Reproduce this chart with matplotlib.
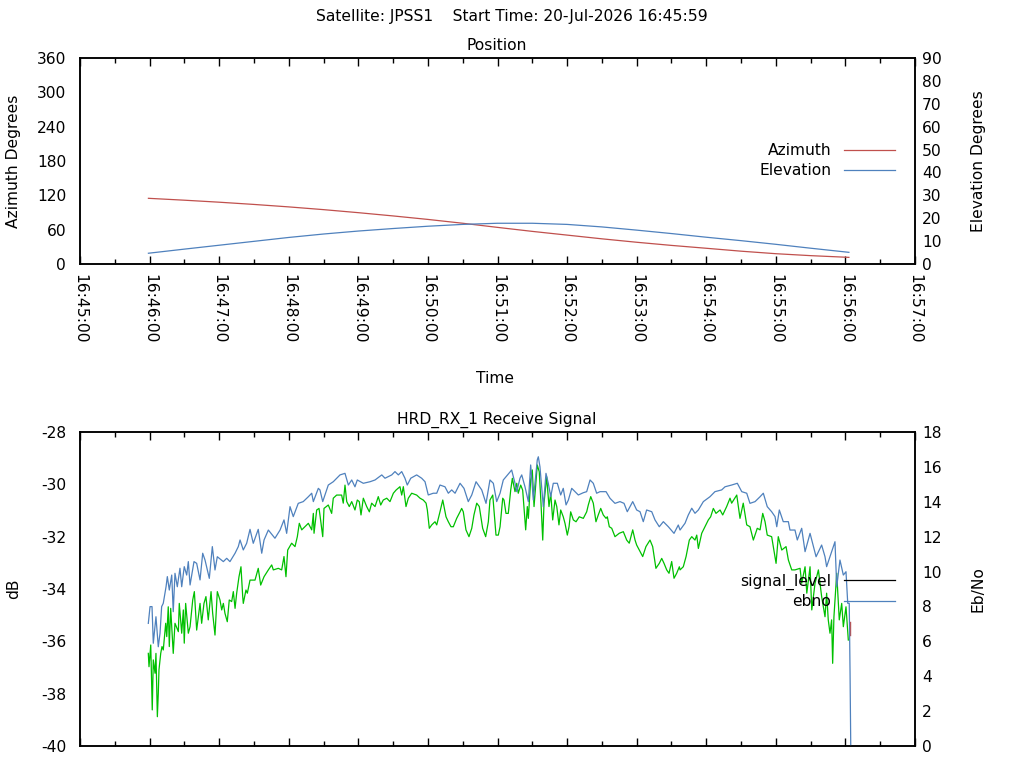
import matplotlib
matplotlib.use("Agg")
import matplotlib.pyplot as plt
from matplotlib.ticker import MultipleLocator, FuncFormatter
from matplotlib.lines import Line2D

# ---------------- data ----------------
# time in seconds since 16:45:00
pos_t = [59, 90, 120, 150, 180, 210, 240, 270, 300, 330, 360, 390, 420, 450, 480,
         510, 540, 570, 600, 630, 663]
azimuth = [114.8, 111.5, 108.0, 104.1, 99.8, 95.0, 89.7, 84.0, 77.9, 71.2, 64.0, 57.0,
           50.5, 44.0, 38.0, 32.5, 27.5, 22.4, 18.0, 14.6, 11.6]
elevation = [4.7, 6.5, 8.2, 9.9, 11.6, 13.1, 14.4, 15.5, 16.5, 17.3, 17.8, 17.8, 17.3,
             16.2, 14.8, 13.3, 11.7, 10.2, 8.6, 6.9, 5.1]

ebno_t = [58.9, 60.4, 62.1, 63.2, 65.5, 67.5, 69.0, 70.4, 71.8, 74.2, 75.3, 77.0, 79.1, 80.4,
          81.9, 83.9, 86.2, 87.7, 89.9, 92.0, 93.4, 94.9, 98.3, 100.6, 103.5, 105.8, 107.8,
          111.5, 114.1, 116.4, 118.4, 123.6, 126.5, 129.3, 133.7, 136.5, 138.0, 140.8, 143.7,
          146.6, 149.4, 153.7, 156.7, 158.7, 162.4, 168.1, 172.5, 175.9, 178.2, 181.1, 183.9,
          188.2, 192.5, 196.9, 199.8, 201.2, 205.5,
          206.9, 209.3, 214.1, 218.4, 224.2, 228.5, 231.4, 234.3, 237.1, 239.1, 244.3, 250.1,
          254.4, 260.2, 263.0, 268.8, 271.6, 274.5, 277.4, 280.2, 282.2, 285.2, 290.3, 294.6,
          297.5, 300.3, 304.6, 307.6, 310.4, 314.7, 317.6, 320.5, 323.4, 327.7, 331.1, 334.8,
          337.8, 341.5, 346.4, 350.1, 353.5, 356.4, 359.3, 362.2,
          365.0, 372.2, 375.1, 376.6, 379.4, 380.9, 383.7, 386.6, 388.6, 390.9, 394.3, 395.2,
          396.6, 399.5, 401.8, 403.8, 405.9, 408.1, 411.6, 414.5, 416.7, 419.1, 421.1, 424.0,
          426.8, 429.7, 434.0, 436.9, 439.8, 442.6, 445.5, 448.4, 453.6, 457.0, 461.3, 465.6,
          469.1, 471.9, 476.6, 480.0, 482.9, 485.7, 488.6, 493.0, 495.8, 499.5, 503.0, 507.3,
          512.2, 515.9,
          517.4, 521.7, 524.5, 527.5, 530.3, 533.2, 537.5, 543.2, 547.5, 553.3, 556.2, 561.9,
          566.8, 570.6, 574.9, 577.7, 582.1, 586.4, 589.2, 592.6, 596.4, 599.3, 600.8, 603.0,
          606.4, 610.8, 612.2, 616.5, 618.5, 622.3, 625.2, 629.5, 634.7, 639.5, 642.4, 643.8,
          651.0, 652.5, 655.3, 658.2, 660.5, 662.0, 663.3, 664.0, 664.6]
ebno = [7.03, 7.99, 7.99, 5.89, 7.41, 5.69, 6.46, 7.99, 8.18, 9.13, 9.71, 8.94, 9.80, 7.70,
        9.90, 9.13, 10.19, 9.13, 10.28, 9.80, 10.57, 9.23, 10.57, 10.47, 9.52, 11.05, 10.66,
        9.61, 11.43, 10.09, 10.85, 10.57, 10.76, 10.57, 11.05, 11.43, 11.81, 11.24, 11.62,
        12.42, 11.62, 12.42, 11.05, 11.81, 12.38, 11.91, 12.38, 12.96, 12.19, 13.72, 13.15,
        13.91, 14.01, 14.29, 14.49, 14.01, 14.77,
        14.68, 14.01, 14.96, 15.15, 15.54, 15.63, 14.96, 15.25, 14.86, 15.25, 15.06, 15.15,
        15.25, 15.54, 15.35, 15.54, 15.73, 15.54, 15.73, 15.35, 14.96, 15.35, 15.54, 15.35,
        15.15, 14.39, 14.49, 14.49, 14.96, 14.86, 14.49, 14.68, 14.49, 15.06, 14.77, 14.01,
        14.39, 15.15, 14.68, 13.91, 15.25, 15.06, 14.01, 14.49,
        15.25, 15.82, 15.06, 14.58, 15.35, 15.54, 14.86, 14.01, 16.11, 14.10, 16.40, 16.58,
        16.01, 13.72, 15.63, 15.06, 14.29, 15.06, 15.06, 14.39, 14.77, 13.82, 14.10, 14.77,
        14.58, 14.39, 14.52, 14.58, 15.25, 15.06, 14.49, 14.58, 14.58, 14.20, 13.91, 14.01,
        13.91, 13.43, 14.01, 13.53, 13.43, 12.86, 13.53, 13.43, 12.96, 12.57, 12.86, 12.57,
        12.19, 12.67,
        12.38, 12.77, 13.24, 13.63, 13.34, 13.53, 14.01, 14.29, 14.58, 14.68, 14.86, 14.96,
        15.06, 14.58, 14.49, 13.91, 14.01, 14.29, 14.49, 13.72, 13.43, 13.15, 12.57, 13.53,
        12.86, 12.86, 12.38, 12.38, 11.81, 12.48, 11.14, 12.19, 10.85, 11.52, 10.85, 10.28,
        11.71, 9.13, 10.66, 9.80, 9.99, 8.18, 8.18, 4.17, 0.0]

signal_t = [58.9, 59.5, 61.0, 62.3, 63.2, 64.7, 65.5, 66.7, 67.5, 68.1, 69.6, 70.7, 71.8, 73.9,
            74.8, 76.1, 77.0, 78.2, 80.4, 81.9, 84.8, 85.6, 87.7, 89.1, 89.9, 91.1, 93.4, 94.9,
            97.2, 98.6, 100.6, 103.5, 104.9, 106.9, 108.6, 110.6, 113.0, 114.4, 116.4, 118.4,
            120.7, 122.2, 123.6, 125.0, 127.0, 128.7, 130.8, 132.2, 133.7, 135.1, 137.1, 138.8,
            140.3, 140.8, 143.1, 144.3, 146.6, 150.9, 153.7, 155.8, 158.7, 162.4, 165.3, 166.7,
            171.0, 173.9, 175.9, 177.6, 179.1, 182.5, 185.4, 187.4, 189.1, 191.2, 194.0, 196.9,
            199.8, 201.2, 201.8, 204.1, 206.1,
            206.9, 209.3, 210.4, 214.1, 217.0, 218.4, 221.3, 225.6, 227.0, 228.5, 230.0, 232.2,
            234.3, 237.1, 239.1, 240.8, 242.3, 244.3, 247.2, 249.5, 251.5, 254.4, 257.2, 259.3,
            261.5, 264.5, 267.3, 270.2, 272.5, 275.9, 277.4, 278.8, 281.1, 283.1, 286.0, 290.3,
            293.2, 296.0, 298.4, 299.5, 301.2, 303.3, 306.1, 307.6, 310.4, 312.8, 315.6, 317.6,
            319.9, 321.9, 324.8, 327.7, 329.1, 330.5, 332.8, 335.4, 337.8, 339.7, 342.1, 344.3,
            347.2, 349.8, 352.1, 353.5, 355.9, 358.7, 360.7, 362.2,
            364.5, 365.6, 367.3, 369.3, 371.4, 372.8, 375.1, 376.6, 377.9, 380.0, 381.7, 384.3,
            385.7, 386.6, 388.6, 390.0, 391.5, 394.3, 396.0, 397.5, 399.0, 400.1, 402.4, 404.4,
            405.9, 407.6, 409.6, 411.1, 413.0, 414.5, 416.7, 418.2, 420.2, 421.7, 423.1, 425.4,
            427.7, 430.5, 434.0, 436.9, 438.3, 440.4, 442.6, 444.9, 446.9, 449.0, 451.2, 453.6,
            454.7, 456.4, 458.5, 461.3, 465.0, 468.5, 471.4, 473.6, 476.6, 478.6, 480.0, 485.2,
            488.0, 491.5, 493.8, 496.6, 499.5, 501.6, 503.6, 505.9, 507.9, 510.2, 512.2, 514.5,
            516.8,
            517.4, 520.2, 522.6, 525.4, 527.5, 530.3, 531.8, 533.2, 536.1, 538.9, 541.8, 543.8,
            546.1, 548.4, 551.9, 554.2, 557.6, 560.5, 561.9, 566.3, 569.1, 571.9, 574.9, 577.7,
            580.6, 584.0, 586.4, 588.7, 590.7, 592.6, 596.4, 599.3, 600.2, 602.1, 605.1, 608.8,
            610.8, 613.7, 616.5, 620.9, 622.3, 625.2, 626.7, 629.5, 631.0, 633.8, 636.7, 639.5,
            642.4, 643.8, 645.2, 646.7, 648.1, 649.0, 650.1, 652.5, 654.7, 656.8, 658.2, 660.5,
            662.5]
signal_level = [-36.46, -36.97, -36.14, -38.62, -36.71, -37.22, -36.46, -38.88, -37.99, -37.09,
                -36.46, -36.20, -36.33, -35.31, -35.82, -34.68, -36.20, -34.74, -36.46, -35.31,
                -35.63, -34.55, -35.69, -34.80, -36.07, -34.55, -35.69, -35.44, -34.42, -34.10,
                -35.57, -34.55, -35.31, -34.55, -34.29, -35.18, -34.10, -34.93, -35.76, -34.10,
                -34.42, -34.80, -34.55, -34.93, -35.25, -34.42, -34.48, -34.10, -34.74, -34.16,
                -33.53, -33.15, -34.29, -34.55, -34.04, -34.16, -33.66, -33.66, -33.21, -33.85,
                -33.53, -33.27, -33.08, -33.27, -33.21, -33.27, -32.76, -33.53, -32.51, -32.25,
                -32.38, -32.00, -31.49, -31.74, -31.62, -31.49, -31.74, -31.11, -31.87, -30.98,
                -30.92,
                -31.17, -32.00, -30.92, -30.79, -31.11, -30.53, -30.41, -30.41, -30.72, -30.03,
                -30.66, -30.85, -30.66, -30.98, -30.60, -30.66, -31.17, -30.53, -30.85, -31.05,
                -30.72, -30.85, -30.47, -30.79, -30.60, -30.53, -30.66, -30.34, -30.22, -30.09,
                -30.41, -30.09, -30.85, -30.53, -30.34, -30.41, -30.53, -30.60, -30.72, -30.98,
                -31.68, -31.55, -31.43, -31.55, -31.05, -30.60, -31.24, -31.43, -31.62, -31.62,
                -31.30, -31.05, -30.92, -31.05, -31.74, -32.00, -31.68, -31.17, -30.72, -30.85,
                -31.68, -32.00, -31.43, -30.60, -30.41, -31.94, -31.94, -31.62,
                -30.53, -30.60, -31.11, -31.11, -30.22, -29.77, -30.28, -29.96, -30.34, -30.03,
                -30.22, -31.74, -30.85, -31.30, -29.83, -29.45, -30.85, -29.26, -29.52, -30.72,
                -32.13, -30.72, -29.71, -30.85, -30.34, -31.36, -30.60, -30.85, -31.55, -30.98,
                -31.24, -31.49, -31.94, -31.62, -31.05, -31.36, -31.43, -31.24, -31.30, -31.05,
                -30.79, -30.47, -30.72, -31.43, -31.17, -30.92, -31.17, -31.30, -31.24, -31.62,
                -31.68, -32.00, -31.87, -31.81, -32.13, -32.25, -31.74, -32.13, -32.32, -32.76,
                -32.38, -32.13, -32.38, -33.21, -33.02, -32.83, -33.02, -33.27, -33.40, -32.95,
                -33.59, -33.40, -33.15,
                -33.27, -33.15, -32.76, -32.13, -32.00, -32.13, -31.94, -32.45, -31.87, -31.62,
                -31.36, -31.24, -30.92, -31.11, -30.98, -31.17, -30.85, -30.53, -30.72, -30.41,
                -31.30, -30.72, -31.55, -31.62, -32.13, -31.68, -31.74, -31.11, -31.43, -31.94,
                -32.00, -32.76, -33.02, -32.00, -32.51, -32.38, -32.89, -33.27, -33.27, -33.21,
                -33.78, -33.15, -34.16, -33.15, -34.80, -33.78, -33.27, -34.29, -35.06, -34.16,
                -35.18, -35.69, -35.18, -36.84, -35.06, -33.40, -35.18, -34.55, -35.44, -34.68,
                -35.95]

extra_t = [664.0, 664.0]
extra_db = [-35.26, -35.76]

# ---------------- style ----------------
RED = "#c0504d"
BLUE = "#4f81bd"
GREEN = "#00c000"
FS = 11.2
plt.rcParams['font.family'] = ['DejaVu Sans']
plt.rcParams['font.size'] = FS
plt.rcParams['axes.unicode_minus'] = False

BASE = 16 * 3600 + 45 * 60


def tfmt(s, pos=None):
    v = int(round(BASE + s))
    return f"{v // 3600:02d}:{(v % 3600) // 60:02d}:{v % 60:02d}"


fig = plt.figure(figsize=(10.24, 7.68), dpi=100)
W, H = 1024.0, 768.0


def axrect(x0, y0, x1, y1):
    return [x0 / W, 1 - y1 / H, (x1 - x0) / W, (y1 - y0) / H]


def style_x(ax, labels=True):
    ax.set_xlim(0, 720)
    ax.xaxis.set_major_locator(MultipleLocator(60))
    ax.xaxis.set_minor_locator(MultipleLocator(30))
    ax.xaxis.set_major_formatter(FuncFormatter(tfmt))
    ax.tick_params(axis='x', which='both', direction='in', top=True, bottom=True,
                   width=1.0, labelrotation=-90, pad=7, labelsize=FS,
                   labelbottom=labels)
    ax.tick_params(axis='x', which='major', length=6)
    ax.tick_params(axis='x', which='minor', length=3.5)
    ax.tick_params(axis='y', which='both', length=0, labelsize=FS)
    for sp in ax.spines.values():
        sp.set_linewidth(1.1)


LEG = dict(frameon=False, markerfirst=False, fontsize=FS, handlelength=3.3,
           handletextpad=0.8, labelspacing=0.32, borderpad=0, borderaxespad=0)

# ---------------- top: position ----------------
ax1 = fig.add_axes(axrect(80, 58, 915, 264))
ax1b = ax1.twinx()
l_az, = ax1.plot(pos_t, azimuth, color=RED, lw=0.9, label="Azimuth")
l_el, = ax1b.plot(pos_t, elevation, color=BLUE, lw=0.9, label="Elevation")
ax1.set_ylim(0, 360)
ax1.yaxis.set_major_locator(MultipleLocator(60))
ax1b.set_ylim(0, 90)
ax1b.yaxis.set_major_locator(MultipleLocator(10))
style_x(ax1)
ax1.tick_params(axis='y', pad=10)
ax1b.tick_params(axis='y', length=0, pad=5, labelsize=FS)
for sp in ax1b.spines.values():
    sp.set_linewidth(1.1)
ax1b.legend(handles=[l_az, l_el], loc='upper right', bbox_to_anchor=(0.976, 0.585), **LEG)

# ---------------- bottom: receive signal ----------------
ax2 = fig.add_axes(axrect(80, 432, 915, 746))
ax2b = ax2.twinx()
ax2.plot(signal_t, signal_level, color=GREEN, lw=0.9)
ax2.plot(extra_t, extra_db, color=RED, lw=1.0)
ax2b.plot(ebno_t, ebno, color=BLUE, lw=0.9)
ax2.set_ylim(-40, -28)
ax2.yaxis.set_major_locator(MultipleLocator(2))
ax2b.set_ylim(0, 18)
ax2b.yaxis.set_major_locator(MultipleLocator(2))
style_x(ax2, labels=False)
ax2.tick_params(axis='y', pad=10)
ax2b.tick_params(axis='y', length=0, pad=5, labelsize=FS)
for sp in ax2b.spines.values():
    sp.set_linewidth(1.1)
h_sig = Line2D([], [], color='black', lw=0.9, label="signal_level")
h_eb = Line2D([], [], color=BLUE, lw=0.9, label="ebno")
ax2b.legend(handles=[h_sig, h_eb], loc='upper right', bbox_to_anchor=(0.976, 0.55), **LEG)

# ---------------- texts ----------------
fig.text(512 / W, 1 - 17 / H, "Satellite: JPSS1    Start Time: 20-Jul-2026 16:45:59",
         ha='center', va='center', fontsize=FS)
fig.text(497 / W, 1 - 46 / H, "Position", ha='center', va='center', fontsize=FS)
fig.text(497 / W, 1 - 420 / H, "HRD_RX_1 Receive Signal", ha='center', va='center', fontsize=FS)
fig.text(14 / W, 1 - 161 / H, "Azimuth Degrees", rotation=90, ha='center', va='center', fontsize=FS)
fig.text(978 / W, 1 - 161 / H, "Elevation Degrees", rotation=90, ha='center', va='center', fontsize=FS)
fig.text(495 / W, 1 - 379 / H, "Time", ha='center', va='center', fontsize=FS)
fig.text(14 / W, 1 - 589 / H, "dB", rotation=90, ha='center', va='center', fontsize=FS)
fig.text(978 / W, 1 - 589 / H, "Eb/No", rotation=90, ha='center', va='center', fontsize=FS)

fig.savefig("out.png", dpi=100)
